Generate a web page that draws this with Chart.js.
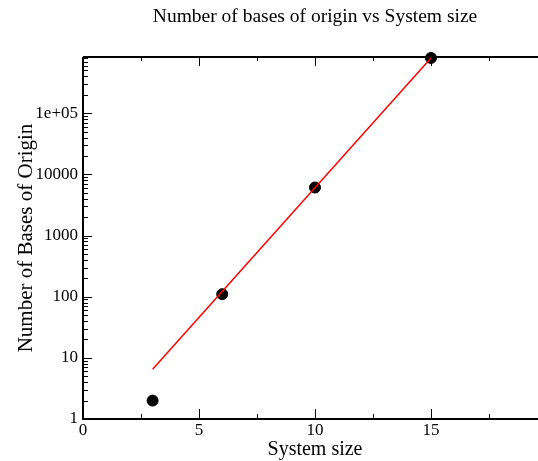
<!DOCTYPE html>
<html>
<head>
<meta charset="utf-8">
<script src="https://cdn.jsdelivr.net/npm/chart.js@4/dist/chart.umd.min.js"></script>
<style>
  html, body { margin: 0; padding: 0; background: #fff; overflow: hidden; }
  #wrap { width: 560px; height: 461px; }
</style>
</head>
<body>
<div id="wrap"><canvas id="basesChart" width="560" height="461"></canvas></div>
<script>
(function() {
  // measured counts
  const systemSize = [3, 6, 10, 15];
  const basesOfOrigin = [2, 110, 6100, 800000];

  // fitted exponential, end points
  const fitX = [3, 15];
  const fitY = [6.5, 800000];

  const xMajorTicks = [0, 5, 10, 15, 20];
  const xMinorTicks = [2.5, 7.5, 12.5, 17.5];
  const yMajorTicks = [1, 10, 100, 1000, 10000, 100000];

  const serif = '"Liberation Serif", "Times New Roman", serif';

  // inward tick marks, axis lines, frame and title
  const frame = {
    id: 'frame',
    beforeDatasetsDraw(chart) {
      const { ctx, chartArea: a, scales: { x, y } } = chart;
      ctx.save();
      ctx.strokeStyle = '#000';
      ctx.lineWidth = 1;
      ctx.beginPath();
      xMajorTicks.forEach(v => {
        const px = Math.round(x.getPixelForValue(v)) + 0.5;
        ctx.moveTo(px, a.bottom); ctx.lineTo(px, a.bottom - 10);
        ctx.moveTo(px, a.top); ctx.lineTo(px, a.top + 9);
      });
      xMinorTicks.forEach(v => {
        const px = Math.round(x.getPixelForValue(v)) + 0.5;
        ctx.moveTo(px, a.bottom); ctx.lineTo(px, a.bottom - 5);
        ctx.moveTo(px, a.top); ctx.lineTo(px, a.top + 4);
      });
      yMajorTicks.forEach(v => {
        const py = Math.round(y.getPixelForValue(v)) + 0.5;
        ctx.moveTo(a.left, py); ctx.lineTo(a.left + 9, py);
      });
      for (let d = 1; d <= 100000; d *= 10) {
        for (let m = 2; m <= 9; m++) {
          const v = m * d;
          if (v > y.max) break;
          const py = Math.round(y.getPixelForValue(v)) + 0.5;
          ctx.moveTo(a.left, py); ctx.lineTo(a.left + 5, py);
        }
      }
      ctx.stroke();

      ctx.lineWidth = 2;
      ctx.beginPath();
      ctx.moveTo(a.left, a.top); ctx.lineTo(a.right, a.top);
      ctx.moveTo(a.left, a.top); ctx.lineTo(a.left, a.bottom);
      ctx.moveTo(a.left - 1, a.bottom); ctx.lineTo(a.right, a.bottom);
      ctx.moveTo(a.right, a.top); ctx.lineTo(a.right, a.bottom);
      ctx.stroke();
      ctx.restore();
    },
    afterDraw(chart) {
      const { ctx, chartArea: a } = chart;
      ctx.save();
      ctx.fillStyle = '#000';
      ctx.font = '19.5px ' + serif;
      ctx.textAlign = 'center';
      ctx.textBaseline = 'middle';
      ctx.fillText('Number of bases of origin vs System size', (a.left + a.right) / 2, 17);
      ctx.restore();
    }
  };

  new Chart(document.getElementById('basesChart').getContext('2d'), {
    type: 'scatter',
    data: {
      datasets: [
        {
          label: 'fit',
          data: fitX.map((v, i) => ({ x: v, y: fitY[i] })),
          showLine: true,
          borderColor: '#ff0000',
          borderWidth: 1.5,
          pointRadius: 0,
          clip: false
        },
        {
          label: 'bases',
          data: systemSize.map((v, i) => ({ x: v, y: basesOfOrigin[i] })),
          backgroundColor: '#000',
          borderColor: '#000',
          pointRadius: 5.5,
          clip: false
        }
      ]
    },
    options: {
      responsive: false,
      animation: false,
      layout: { padding: { top: 57, right: 13, left: 0, bottom: 0 } },
      plugins: { legend: { display: false }, tooltip: { enabled: false } },
      scales: {
        x: {
          type: 'linear',
          min: 0,
          max: 20,
          grid: { display: false, drawTicks: false },
          border: { display: false },
          afterBuildTicks: s => { s.ticks = xMajorTicks.map(v => ({ value: v })); },
          afterFit: s => { s.height = 42; },
          ticks: {
            padding: 1,
            color: '#000',
            font: { family: serif, size: 17 },
            maxRotation: 0,
            autoSkip: false
          },
          title: {
            display: true,
            text: 'System size',
            color: '#000',
            font: { family: serif, size: 20 },
            padding: { top: 0, bottom: -1 }
          }
        },
        y: {
          type: 'logarithmic',
          min: 1,
          max: 830000,
          grid: { display: false, drawTicks: false },
          border: { display: false },
          afterBuildTicks: s => { s.ticks = yMajorTicks.map(v => ({ value: v })); },
          afterFit: s => { s.width = 83; },
          ticks: {
            padding: 5,
            color: '#000',
            font: { family: serif, size: 17 },
            autoSkip: false,
            callback: v => (v === 100000 ? '1e+05' : String(v))
          },
          title: {
            display: true,
            text: 'Number of Bases of Origin',
            color: '#000',
            font: { family: serif, size: 21 },
            padding: { top: 14, bottom: 0 }
          }
        }
      }
    },
    plugins: [frame]
  });
})();
</script>
</body>
</html>
